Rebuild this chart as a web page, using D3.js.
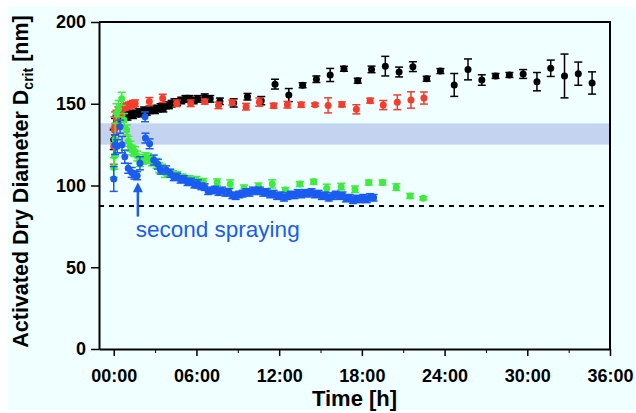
<!DOCTYPE html>
<html>
<head>
<meta charset="utf-8">
<script src="https://cdn.jsdelivr.net/npm/d3@7"></script>
<style>
  body { margin: 0; background: #fff; }
  svg { display: block; font-family: "Liberation Sans", Arial, Helvetica, sans-serif; }
</style>
</head>
<body>
<svg id="chart" width="636" height="413"></svg>
<script>
// time in hours, value in nm, error in nm
const blackT = [0.0, 0.1, 0.2, 0.35, 0.5, 0.65, 0.8, 1.0, 1.2, 1.4, 1.6, 1.8, 2.0, 2.2, 2.4, 2.6, 2.8, 3.0, 3.2, 3.4, 3.6, 3.8, 4.0, 4.2, 4.4, 4.6, 4.9, 5.2, 5.5, 5.8, 6.1, 6.6, 7.0, 7.7,
  8.7, 9.7, 10.7, 11.7, 12.7, 13.7, 14.7, 15.7, 16.7, 17.7, 18.7, 19.7, 20.7, 21.7, 22.7, 23.7, 24.7, 25.7, 26.7, 27.7, 28.7, 29.7, 30.7, 31.7, 32.7, 33.7, 34.7];
const blackV = [128, 136, 140, 141, 142, 141, 143, 142, 144, 143, 144, 145, 144, 146, 145, 146, 147, 146, 147, 148, 147, 149, 149, 150, 151, 151, 152, 153, 153, 152, 153, 154, 153, 151.5,
  150.5, 154.3, 151.9, 162, 155.3, 161.3, 165, 167.6, 171.4, 164.1, 171, 173, 169.4, 172.7, 165.3, 170, 161.5, 171, 164.5, 167, 167.6, 168.2, 163.5, 171.7, 167, 168.4, 162.7];
const blackE = [6, 5, 3, 2, 2, 2, 2, 2, 2, 2, 2, 2, 2, 2, 2, 2, 2, 2, 2, 2, 2, 2, 2, 2, 2, 2, 2, 2, 2, 2, 2, 2, 2, 2,
  2.5, 2, 2.5, 3, 4, 1.5, 2, 4, 1.5, 1.5, 2, 6, 3, 3, 1.5, 1.5, 7, 6.4, 3.2, 1.5, 1.5, 2.7, 5.6, 5, 13.4, 7.1, 6.8];

const redT = [0.0, 0.05, 0.1, 0.2, 0.33, 0.45, 0.58, 0.7, 0.8, 0.95, 1.1, 1.25, 1.4, 1.55,
  2.58, 3.55, 4.57, 5.58, 6.6, 7.6, 8.6, 9.6, 10.56, 11.6, 12.6, 13.6, 14.6, 15.55, 16.55, 17.6, 18.6, 19.55, 20.57, 21.56, 22.5];
const redV = [124, 134, 137, 141, 144, 145, 146, 147, 148, 148.5, 149, 149.5, 150, 150.3,
  151.3, 153.3, 150.3, 150.3, 151.3, 149, 150.7, 148.2, 151, 148.8, 149.4, 149.4, 149.4, 149, 149.6, 146.6, 151.9, 149.2, 150.9, 152.3, 153.5];
const redE = [11, 8, 8, 5, 4, 3, 3, 3, 2, 2, 2, 2, 2, 2,
  2.5, 2.5, 2, 2, 1.5, 2, 1.5, 2, 2.5, 1.5, 2, 1.5, 1, 4.6, 1.5, 2.8, 1.5, 2.8, 4.5, 5, 3.7];

const greenT = [0.0, 0.05, 0.1, 0.2, 0.35, 0.58, 0.75, 0.94, 1.06, 1.2, 1.3, 1.45, 1.55, 1.7, 1.9, 2.1, 2.3, 2.5, 2.8, 3.1, 3.3, 3.5, 3.7, 4.0, 4.3, 4.6, 5.0, 5.5, 6.0, 6.5, 7.5,
  8.45, 9.45, 10.5, 11.5, 12.45, 13.5, 14.5, 15.45, 16.5, 17.5, 18.5, 19.5, 20.5, 21.5, 22.45];
const greenV = [111, 118, 128, 144, 147, 153, 140, 134, 127, 124, 121.7, 121, 120.7, 118, 114.6, 116, 117, 116.6, 115, 113.6, 111, 110, 108, 107.5, 107, 106.4, 105, 104, 103.5, 102.3, 102,
  100.9, 98.3, 99.5, 101, 97.2, 100.9, 102.3, 98.3, 99.3, 97.7, 101.8, 101.8, 99, 93.6, 92.2];
const greenE = [6, 8, 10, 6, 5, 4, 4, 3, 3, 3, 3, 3, 3, 3, 3, 3, 3, 3, 3, 3, 3, 3, 3, 2, 2, 2, 2, 2, 2, 2, 2,
  2.5, 2, 2, 2.5, 1.5, 1.5, 1.5, 2.5, 2, 2, 1.5, 1.5, 2, 1.5, 1];

const blueT = [0.0, 0.1, 0.25, 0.46, 0.6, 0.8, 1.05, 1.3, 1.5, 1.7, 1.9, 2.27, 2.3, 2.6, 2.9, 3.2, 3.4, 3.8,
  4.1, 4.35, 4.6, 4.85, 5.1, 5.35, 5.6, 5.85, 6.1, 6.35, 6.6, 6.85, 7.1, 7.35, 7.6, 7.85, 8.1, 8.35, 8.6, 8.85,
  9.1, 9.35, 9.6, 9.85, 10.1, 10.35, 10.6, 10.85, 11.1, 11.35, 11.6, 11.85, 12.1, 12.35, 12.6, 12.85, 13.1, 13.35,
  13.6, 13.85, 14.1, 14.35, 14.6, 14.85, 15.1, 15.35, 15.6, 15.85, 16.1, 16.35, 16.6, 16.85, 17.1, 17.35, 17.6, 17.85,
  18.1, 18.35, 18.6, 18.85];
const blueV = [104, 125, 124, 136, 125, 117.6, 110.5, 108, 106.4, 106, 113.6, 142, 129, 125.5, 115.6, 113, 109.5, 109.5,
  107.5, 105, 105.5, 103.5, 104, 102, 102.5, 100.5, 101, 99.5, 99, 96.5, 97, 97.5, 96, 97, 95.5, 96, 94, 93.5,
  94.5, 95, 96, 95.5, 97, 96.5, 97, 95.5, 96, 94.5, 95, 93.5, 94, 92.5, 93.5, 94.5, 94, 95.5,
  94.5, 95.5, 95, 96, 94.5, 95, 93.5, 94, 92.5, 93.5, 94.5, 93.5, 94, 92, 92.5, 91, 92, 91.5,
  92.5, 91.5, 93, 92.5];
const blueE = [7.6, 6, 4, 4, 5, 4, 3, 3, 2.5, 2.5, 4, 3, 3, 3, 3, 3, 2.5, 2.5,
  2.5, 2, 2, 2, 2, 2, 2, 2, 2.5, 2, 2, 2, 2, 2, 2, 2, 2, 2, 2, 2,
  2, 2, 2, 2, 2, 2, 2, 2, 2, 2, 2, 2, 2, 2, 2, 2, 2, 2,
  2, 2, 2, 2, 2, 2, 2, 2, 2, 2, 2, 2, 2, 2, 2, 2, 2, 2,
  2, 2, 2, 2];

const xTicks = [0, 6, 12, 18, 24, 30, 36];
const xTickLabels = ['00:00', '06:00', '12:00', '18:00', '24:00', '30:00', '36:00'];
const xMinorTicks = [3, 9, 15, 21, 27, 33];
const yTicks = [0, 50, 100, 150, 200];
const bandRange = [125, 138];
const dashedLevel = 87.5;
const arrowT = 1.75, arrowFrom = 81, arrowTo = 102;
const noteT = 1.6, noteV = 68.5, noteText = 'second spraying';

const colors = { black: '#000000', red: '#f53c2d', green: '#3eec3e', blue: '#1a5cf0' };

const svg = d3.select('#chart');

const x = d3.scaleLinear().domain([-1.07, 36]).range([99, 610]);
const y = d3.scaleLinear().domain([0, 200]).range([349, 22]);

// panel background
svg.append('rect')
  .attr('x', 8).attr('y', 7).attr('width', 628).attr('height', 403)
  .attr('fill', '#f0ffff');

// shaded band
svg.append('rect')
  .attr('x', x(-1.07)).attr('width', x(36) - x(-1.07))
  .attr('y', y(bandRange[1])).attr('height', y(bandRange[0]) - y(bandRange[1]))
  .attr('fill', '#c4d4f0');

// dashed reference line
svg.append('line')
  .attr('x1', x(-1.07)).attr('x2', x(36))
  .attr('y1', y(dashedLevel)).attr('y2', y(dashedLevel))
  .attr('stroke', '#000').attr('stroke-width', 2)
  .attr('stroke-dasharray', '5,5');

function drawSeries(ts, vs, es, color) {
  const pts = ts.map((t, i) => ({ t, v: vs[i], e: es[i] }));
  const g = svg.append('g');
  const bars = g.selectAll('g.eb').data(pts).enter().append('g')
    .attr('stroke', color).attr('stroke-width', 1.5);
  bars.append('line')
    .attr('x1', d => x(d.t)).attr('x2', d => x(d.t))
    .attr('y1', d => y(d.v - d.e)).attr('y2', d => y(d.v + d.e));
  bars.append('line')
    .attr('x1', d => x(d.t) - 4).attr('x2', d => x(d.t) + 4)
    .attr('y1', d => y(d.v + d.e)).attr('y2', d => y(d.v + d.e));
  bars.append('line')
    .attr('x1', d => x(d.t) - 4).attr('x2', d => x(d.t) + 4)
    .attr('y1', d => y(d.v - d.e)).attr('y2', d => y(d.v - d.e));
  g.selectAll('circle').data(pts).enter().append('circle')
    .attr('cx', d => x(d.t)).attr('cy', d => y(d.v))
    .attr('r', 3.5).attr('fill', color);
}

drawSeries(blackT, blackV, blackE, colors.black);
drawSeries(redT, redV, redE, colors.red);
drawSeries(greenT, greenV, greenE, colors.green);
drawSeries(blueT, blueV, blueE, colors.blue);

// annotation
svg.append('line')
  .attr('x1', x(arrowT)).attr('x2', x(arrowT))
  .attr('y1', y(arrowFrom)).attr('y2', y(arrowTo) + 8)
  .attr('stroke', colors.blue).attr('stroke-width', 2.5);
svg.append('path')
  .attr('d', `M${x(arrowT)},${y(arrowTo)} L${x(arrowT) - 5},${y(arrowTo) + 10} L${x(arrowT) + 5},${y(arrowTo) + 10} Z`)
  .attr('fill', colors.blue);
svg.append('text')
  .attr('x', x(noteT)).attr('y', y(noteV))
  .attr('font-size', '22.5px').attr('fill', colors.blue)
  .text(noteText);

// axes
const yAxis = svg.append('g')
  .attr('transform', `translate(${x(-1.07)},0)`)
  .call(d3.axisLeft(y).tickValues(yTicks).tickSize(8).tickSizeOuter(0).tickPadding(5));

const xAxis = svg.append('g')
  .attr('transform', `translate(0,${y(0)})`)
  .call(d3.axisBottom(x).tickValues(xTicks).tickFormat((d, i) => xTickLabels[i])
    .tickSize(7).tickSizeOuter(0).tickPadding(13));

svg.append('g')
  .attr('transform', `translate(0,${y(0)})`)
  .call(d3.axisBottom(x).tickValues(xMinorTicks).tickFormat('').tickSize(4).tickSizeOuter(0))
  .select('.domain').remove();

[yAxis, xAxis].forEach(a => {
  a.attr('font-family', null).attr('font-size', null);
  a.select('.domain').attr('stroke-width', 2);
  a.selectAll('.tick line').attr('stroke-width', 1.5);
  a.selectAll('.tick text').attr('font-size', '18px').attr('font-weight', 'bold').attr('fill', '#000');
});

// frame top and right
svg.append('path')
  .attr('d', `M${x(-1.07)},${y(200)} H${x(36)} V${y(0)}`)
  .attr('fill', 'none').attr('stroke', '#000').attr('stroke-width', 2);

// axis titles
svg.append('text')
  .attr('x', (x(-1.07) + x(36)) / 2).attr('y', 406)
  .attr('text-anchor', 'middle').attr('font-size', '22px').attr('font-weight', 'bold')
  .text('Time [h]');

const yTitle = svg.append('text')
  .attr('transform', `translate(28,${(y(0) + y(200)) / 2 - 4}) rotate(-90)`)
  .attr('text-anchor', 'middle').attr('font-size', '21.5px').attr('font-weight', 'bold');
yTitle.append('tspan').text('Activated Dry Diameter D');
yTitle.append('tspan').attr('font-size', '14px').attr('dy', 5).text('crit');
yTitle.append('tspan').attr('dy', -5).text(' [nm]');
</script>
</body>
</html>
